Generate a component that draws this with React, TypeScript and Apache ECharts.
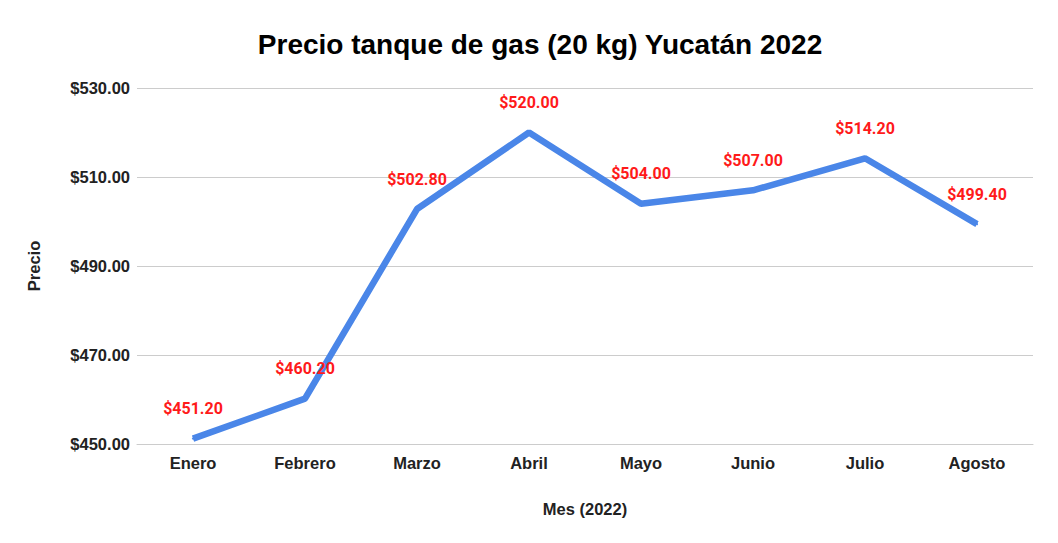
import React, { useEffect, useRef } from "react";
import * as echarts from "echarts";

const months = ["Enero", "Febrero", "Marzo", "Abril", "Mayo", "Junio", "Julio", "Agosto"];
const prices = [451.2, 460.2, 502.8, 520.0, 504.0, 507.0, 514.2, 499.4];
const yMin = 450;
const yMax = 530;
const yStep = 20;

export default function App() {
  const ref = useRef<HTMLDivElement>(null);
  useEffect(() => {
    document.body.style.margin = "0";
    const chart = echarts.init(ref.current!, null, { renderer: "svg" });
    const axisFont = { fontFamily: "Liberation Sans, Arial, sans-serif", fontWeight: "bold" as const, fontSize: 16.5, color: "#222" };
    chart.setOption({
      animation: false,
      backgroundColor: "#fff",
      title: {
        text: "Precio tanque de gas (20 kg) Yucatán 2022",
        left: 535,
        top: 25,
        textAlign: "center",
        textStyle: { fontFamily: "Liberation Sans, Arial, sans-serif", fontWeight: "bold", fontSize: 28, color: "#000" },
      },
      grid: { left: 137, right: 25, top: 88, bottom: 99, containLabel: false },
      xAxis: {
        type: "category",
        data: months,
        boundaryGap: true,
        name: "Mes (2022)",
        nameLocation: "middle",
        nameGap: 56,
        nameTextStyle: axisFont,
        axisTick: { show: false },
        axisLine: { lineStyle: { color: "#ccc" } },
        axisLabel: { ...axisFont, margin: 10 },
      },
      yAxis: {
        type: "value",
        min: yMin,
        max: yMax,
        interval: yStep,
        name: "Precio",
        nameLocation: "middle",
        nameGap: 95,
        nameRotate: 90,
        nameTextStyle: axisFont,
        axisLine: { show: false },
        axisTick: { show: false },
        splitLine: { lineStyle: { color: "#ccc", width: 1 } },
        axisLabel: { ...axisFont, margin: 7, formatter: (v: number) => "$" + v.toFixed(2) },
      },
      series: [
        {
          type: "line",
          data: prices,
          symbol: "circle",
          symbolSize: 2,
          itemStyle: { color: "#4a86e8" },
          lineStyle: { color: "#4a86e8", width: 6.5 },
          label: {
            show: true,
            position: "top",
            distance: 21,
            color: "#ff1a1a",
            fontFamily: "Roboto, sans-serif",
            fontWeight: "bold",
            fontSize: 16,
            formatter: (p: any) => "$" + Number(p.value).toFixed(2),
          },
        },
      ],
    });
    return () => chart.dispose();
  }, []);
  return <div ref={ref} style={{ width: 1058, height: 543 }} />;
}
